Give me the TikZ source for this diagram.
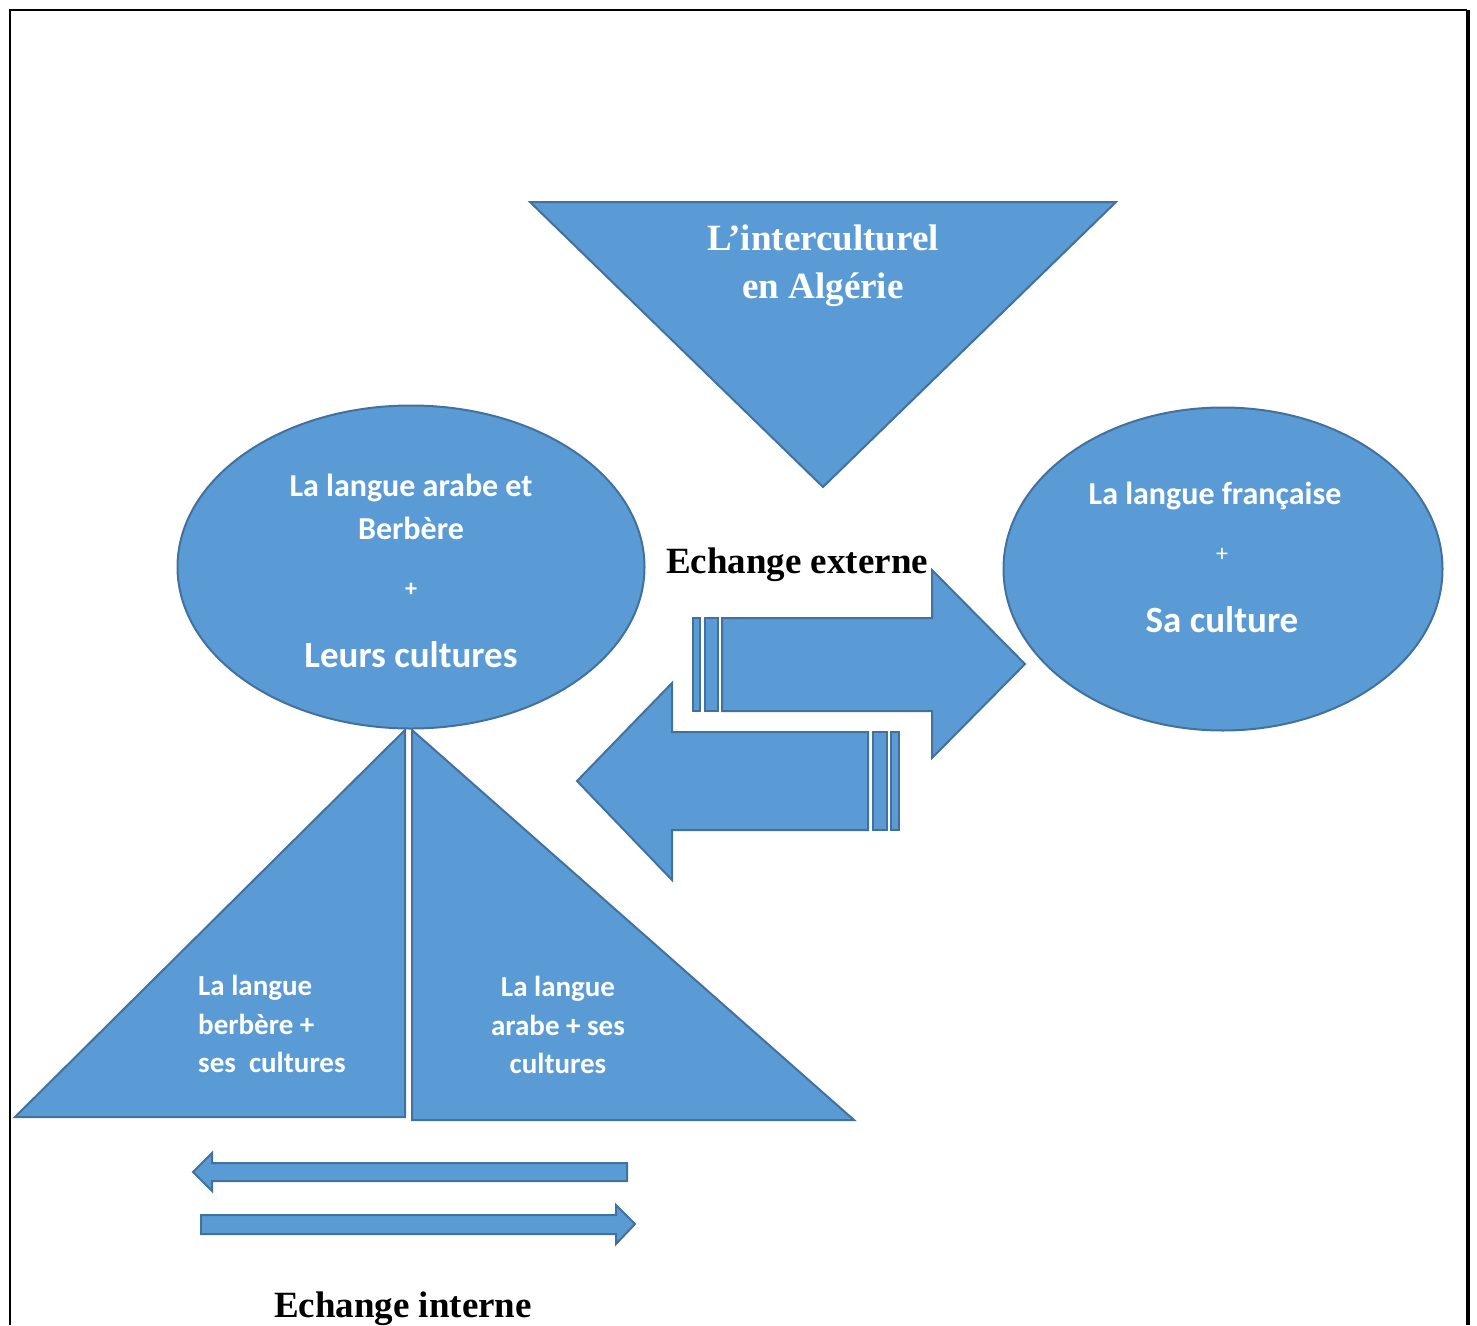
\documentclass[tikz,border=0pt]{standalone}
\usepackage{fontspec}
\setmainfont{Liberation Serif}
\newfontfamily\calibri{Carlito}
\usepackage{tikz}
\usetikzlibrary{shapes.geometric}
\definecolor{officeblue}{RGB}{91,155,213}
\definecolor{officeedge}{RGB}{65,113,156}

\begin{document}
\begin{tikzpicture}[x=1pt, y=-1pt,
    blueshape/.style={fill=officeblue, draw=officeedge, line width=2pt},
    caltext/.style={text=white, inner sep=0pt, font=\calibri\bfseries\fontsize{32}{42}\selectfont},
    bigcal/.style={text=white, inner sep=0pt, font=\calibri\bfseries\fontsize{37}{44}\selectfont},
    tritext/.style={text=white, inner sep=0pt, font=\calibri\bfseries\fontsize{29}{38.5}\selectfont},
    bigtext/.style={inner sep=0pt, font=\bfseries\fontsize{37}{48}\selectfont}]
    \useasboundingbox (0,0) rectangle (1477,1325);

    % Frame
    \draw[line width=2.5pt] (10,1325) -- (10,10) -- (1467,10);
    \draw[line width=4pt] (1468,10) -- (1468,1325);

    % Top triangle
    \filldraw[blueshape] (530,202) -- (1116,202) -- (823,487) -- cycle;
    \node[bigtext, text=white, align=center] (title) at (823,266) {L’interculturel\\en Algérie};

    % Ellipses
    \node[blueshape, ellipse, minimum width=467pt, minimum height=323pt] (arabic) at (411,567) {};
    \node[blueshape, ellipse, minimum width=439pt, minimum height=323pt] (french) at (1223,569) {};

    \node[caltext] (ar1) at (411,488) {La langue arabe et};
    \node[caltext] (ar2) at (411,528) {Berbère};
    \node[caltext, font=\calibri\bfseries\fontsize{24}{28}\selectfont] (ar3) at (411,590) {+};
    \node[bigcal] (ar4) at (411,655) {Leurs cultures};

    \node[caltext] (fr1) at (1215,496) {La langue française};
    \node[caltext, font=\calibri\fontsize{24}{28}\selectfont] (fr2) at (1222,555) {+};
    \node[bigcal] (fr3) at (1222,620) {Sa culture};

    % Lower triangles
    \filldraw[blueshape] (15,1117) -- (405,730) -- (405,1117) -- cycle;
    \filldraw[blueshape] (412,730) -- (854,1120) -- (412,1120) -- cycle;
    \node[tritext, align=left, anchor=west] (berb) at (198,1024) {La langue\\berbère +\\ses~~cultures};
    \node[tritext, align=center] (arab) at (558,1025) {La langue\\arabe + ses\\cultures};

    % External exchange arrows
    \filldraw[blueshape] (722,618) -- (932,618) -- (932,570) -- (1025,664) -- (932,758) -- (932,711) -- (722,711) -- cycle;
    \filldraw[blueshape] (693,618) rectangle (700,711);
    \filldraw[blueshape] (705,618) rectangle (718,711);
    \filldraw[blueshape] (868,732) -- (672,732) -- (672,683) -- (577,781) -- (672,880) -- (672,830) -- (868,830) -- cycle;
    \filldraw[blueshape] (873,732) rectangle (887,830);
    \filldraw[blueshape] (891,732) rectangle (899,830);
    \node[bigtext] (ext) at (797,565) {Echange externe};

    % Internal exchange arrows
    \filldraw[blueshape] (627,1163) -- (212,1163) -- (212,1153) -- (193,1172) -- (212,1191) -- (212,1181) -- (627,1181) -- cycle;
    \filldraw[blueshape] (201,1215) -- (616,1215) -- (616,1205) -- (635,1224) -- (616,1244) -- (616,1234) -- (201,1234) -- cycle;
    \node[bigtext] (int) at (403,1309) {Echange interne};
\end{tikzpicture}
\end{document}
